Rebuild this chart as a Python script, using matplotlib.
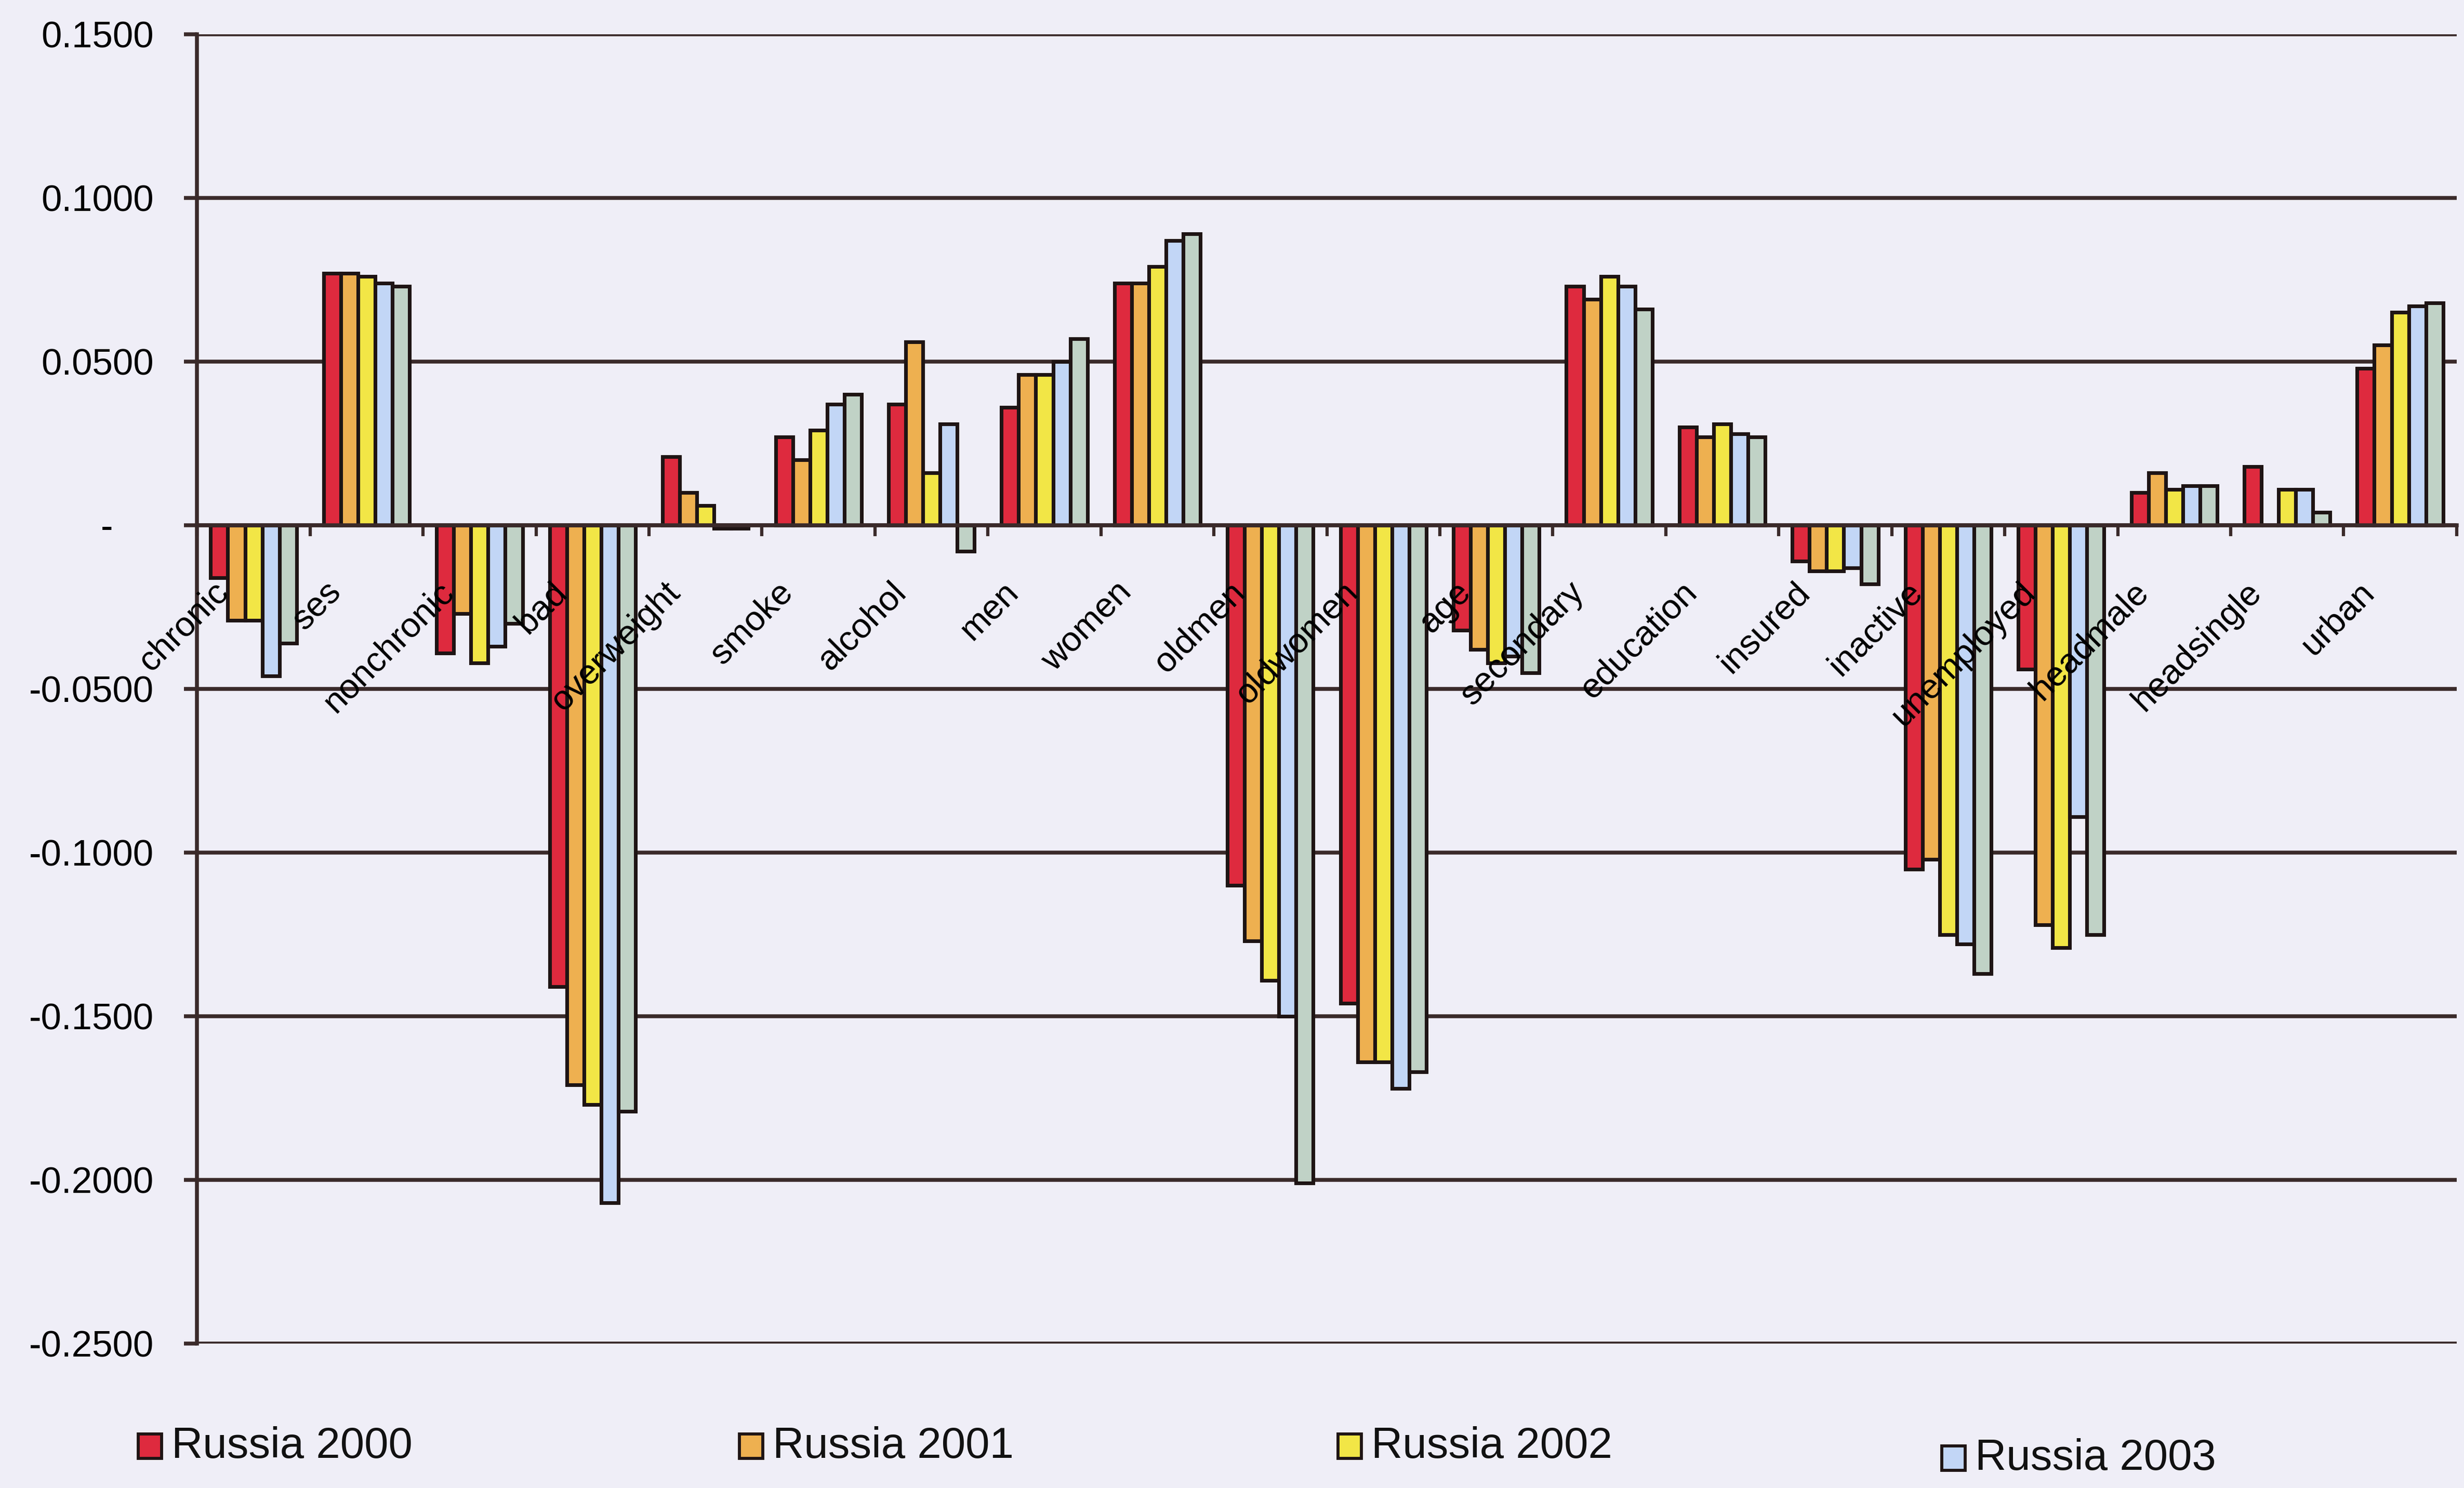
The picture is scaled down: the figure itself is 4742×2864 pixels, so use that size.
import numpy as np
import matplotlib.pyplot as plt
from matplotlib.patches import Rectangle

plt.rcParams['font.family'] = ['Liberation Sans', 'DejaVu Sans']

categories = ['chronic', 'ses', 'nonchronic', 'bad', 'overweight', 'smoke',
              'alcohol', 'men', 'women', 'oldmen', 'oldwomen', 'age',
              'secondary', 'education', 'insured', 'inactive', 'unemployed',
              'headmale', 'headsingle', 'urban']

russia_2000 = [-0.016, 0.077, -0.039, -0.141, 0.021, 0.027, 0.037, 0.036,
               0.074, -0.110, -0.146, -0.032, 0.073, 0.030, -0.011, -0.105,
               -0.044, 0.010, 0.018, 0.048]
russia_2001 = [-0.029, 0.077, -0.027, -0.171, 0.010, 0.020, 0.056, 0.046,
               0.074, -0.127, -0.164, -0.038, 0.069, 0.027, -0.014, -0.102,
               -0.122, 0.016, 0.000, 0.055]
russia_2002 = [-0.029, 0.076, -0.042, -0.177, 0.006, 0.029, 0.016, 0.046,
               0.079, -0.139, -0.164, -0.042, 0.076, 0.031, -0.014, -0.125,
               -0.129, 0.011, 0.011, 0.065]
russia_2003 = [-0.046, 0.074, -0.037, -0.207, -0.001, 0.037, 0.031, 0.050,
               0.087, -0.150, -0.172, -0.040, 0.073, 0.028, -0.013, -0.128,
               -0.089, 0.012, 0.011, 0.067]
series5 = [-0.036, 0.073, -0.030, -0.179, -0.001, 0.040, -0.008, 0.057,
           0.089, -0.201, -0.167, -0.045, 0.066, 0.027, -0.018, -0.137,
           -0.125, 0.012, 0.004, 0.068]

legend_names = ['Russia 2000', 'Russia 2001', 'Russia 2002', 'Russia 2003']
colors = ['#DE2A3E', '#EEB050', '#F2E646', '#C2D6F6', '#C0D2C6']

y_ticks = [-0.25, -0.20, -0.15, -0.10, -0.05, 0.0, 0.05, 0.10, 0.15]
y_tick_labels = ['-0.2500', '-0.2000', '-0.1500', '-0.1000', '-0.0500',
                 '-    ', '0.0500', '0.1000', '0.1500']

bg = '#EFEEF7'
line_col = '#3a2a2a'
edge_col = '#1e1414'

fig = plt.figure(figsize=(4742 / 300, 2864 / 300), dpi=300, facecolor=bg)
ax = fig.add_axes([0.080, 0.097, 0.917, 0.880], facecolor=bg)

x = np.arange(len(categories))
w = 0.152
all_series = [russia_2000, russia_2001, russia_2002, russia_2003, series5]
for i, vals in enumerate(all_series):
    ax.bar(x + (i - 2) * w, vals, w, color=colors[i], edgecolor=edge_col,
           linewidth=1.7, zorder=3)

ax.set_xlim(-0.5, len(categories) - 0.5)
ax.set_ylim(-0.25, 0.15)

# horizontal gridlines
ax.set_yticks(y_ticks)
ax.set_yticklabels(y_tick_labels)
ax.yaxis.grid(True, color=line_col, linewidth=1.8)
ax.set_axisbelow(True)
ax.tick_params(axis='y', direction='out', length=6, width=1.8,
               color=line_col, pad=14, labelsize=17)

# category axis sits at zero
ax.spines['bottom'].set_position(('data', 0))
ax.spines['bottom'].set_color(line_col)
ax.spines['bottom'].set_linewidth(1.8)
ax.spines['bottom'].set_zorder(4)
ax.spines['left'].set_color(line_col)
ax.spines['left'].set_linewidth(1.8)
ax.spines['top'].set_visible(False)
ax.spines['right'].set_visible(False)

ax.set_xticks(np.arange(-0.5, len(categories) + 0.5, 1.0))
ax.set_xticklabels([])
ax.tick_params(axis='x', direction='out', length=5, width=1.5,
               color=line_col)

for xi, name in zip(x, categories):
    ax.text(xi - 0.27, -0.019, name, rotation=45, rotation_mode='anchor',
            ha='right', va='center', fontsize=16, color='#000000', zorder=5)

# legend row along the bottom
legend_x = [0.056, 0.300, 0.543, 0.788]
legend_y = [0.028, 0.028, 0.028, 0.020]
sq_w, sq_h = 0.0095, 0.0165
for lx, ly, c, name in zip(legend_x, legend_y, colors[:4], legend_names):
    fig.patches.append(Rectangle((lx, ly - sq_h / 2), sq_w, sq_h,
                                 transform=fig.transFigure, facecolor=c,
                                 edgecolor=edge_col, linewidth=1.4))
    fig.text(lx + sq_w + 0.004, ly, name, fontsize=20, ha='left',
             va='center', color='#111111')

fig.savefig('out.png', dpi=300, facecolor=bg)
